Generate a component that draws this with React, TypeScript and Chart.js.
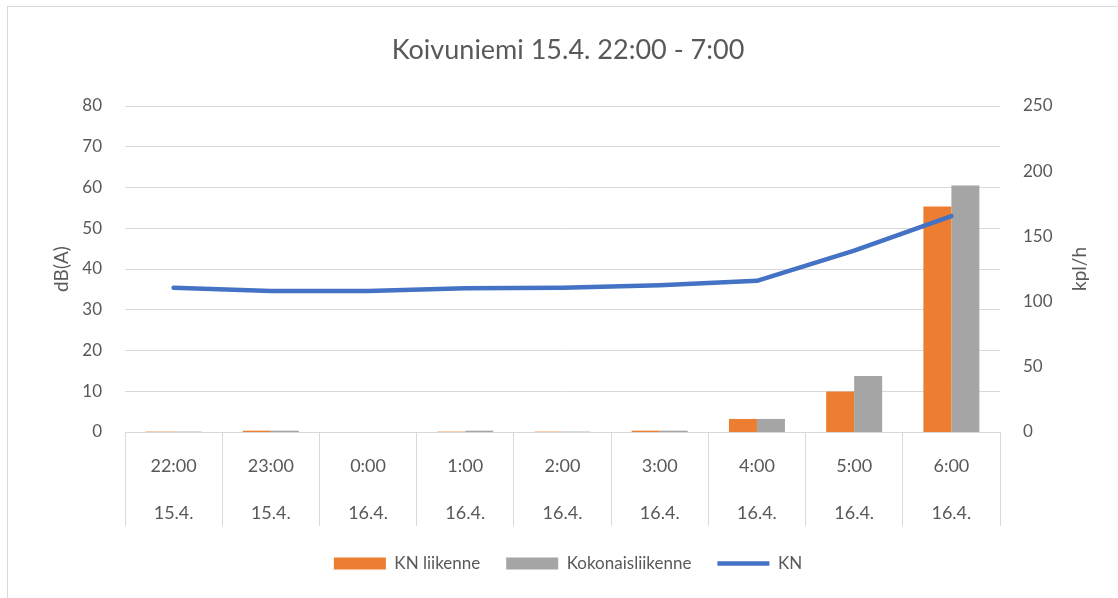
import React, { useEffect, useRef } from "react";
import { Chart, registerables } from "chart.js";

Chart.register(...registerables);

const times = ["22:00", "23:00", "0:00", "1:00", "2:00", "3:00", "4:00", "5:00", "6:00"];
const dates = ["15.4.", "15.4.", "16.4.", "16.4.", "16.4.", "16.4.", "16.4.", "16.4.", "16.4."];
const knLiikenne = [0.3, 1, 0, 0.3, 0.3, 1, 10, 31, 173];
const kokonaisliikenne = [0.3, 1, 0, 1, 0.3, 1, 10, 43, 189];
const knDb = [35.4, 34.6, 34.6, 35.3, 35.4, 36, 37.1, 44.5, 53];

const FONT = "Lato, 'Open Sans', sans-serif";
const TEXT = "#595959";
const GRID = "#D9D9D9";

const rightTitlePlugin = {
  id: "rightTitle",
  afterDraw(chart: any) {
    const s = chart.scales.y1;
    if (!s) return;
    const ctx = chart.ctx;
    ctx.save();
    ctx.translate(s.right - 48, (s.top + s.bottom) / 2);
    ctx.rotate(-Math.PI / 2);
    ctx.font = `19px ${FONT}`;
    ctx.fillStyle = TEXT;
    ctx.textAlign = "center";
    ctx.textBaseline = "middle";
    ctx.fillText("kpl/h", 0, 0);
    ctx.restore();
  },
};

export default function App() {
  const ref = useRef<HTMLCanvasElement>(null);
  useEffect(() => {
    document.body.style.margin = "0";
    const labels = times.map((t, i) => [t, dates[i]]);
    const chart = new Chart(ref.current!, {
      type: "bar",
      data: {
        labels,
        datasets: [
          {
            type: "bar",
            label: "KN liikenne",
            data: knLiikenne,
            backgroundColor: "#ED7D31",
            borderWidth: 0,
            yAxisID: "y1",
            order: 1,
            categoryPercentage: 0.576,
            barPercentage: 1,
            pointStyle: "rect",
          } as any,
          {
            type: "bar",
            label: "Kokonaisliikenne",
            data: kokonaisliikenne,
            backgroundColor: "#A5A5A5",
            borderWidth: 0,
            yAxisID: "y1",
            order: 1,
            categoryPercentage: 0.576,
            barPercentage: 1,
            pointStyle: "rect",
          } as any,
          {
            type: "line",
            label: "KN",
            data: knDb,
            borderColor: "#4472C4",
            backgroundColor: "#4472C4",
            borderWidth: 4.5,
            borderCapStyle: "round",
            borderJoinStyle: "round",
            pointRadius: 0,
            pointHoverRadius: 0,
            pointStyle: "line",
            tension: 0,
            yAxisID: "y",
            order: 0,
          } as any,
        ],
      },
      options: {
        animation: false,
        responsive: false,
        layout: { padding: { left: 0, right: 0, top: 0, bottom: 25 } },
        plugins: {
          title: {
            display: true,
            text: "Koivuniemi 15.4. 22:00 - 7:00",
            color: TEXT,
            font: { family: FONT, size: 27, weight: "normal" },
            padding: { top: 26.8, bottom: 39.8 },
          },
          legend: {
            position: "bottom",
            labels: {
              usePointStyle: true,
              pointStyleWidth: 52,
              boxHeight: 12,
              padding: 26,
              color: TEXT,
              font: { family: FONT, size: 17 },
              sort: (a: any, b: any) => a.datasetIndex - b.datasetIndex,
            },
          },
          tooltip: { enabled: false },
        },
        scales: {
          x: {
            offset: true,
            grid: {
              offset: true,
              drawOnChartArea: false,
              drawTicks: true,
              tickLength: 94,
              color: GRID,
            },
            border: { display: true, color: GRID },
            ticks: {
              color: TEXT,
              font: { family: FONT, size: 18, lineHeight: 2.61 },
              padding: -83.5,
              autoSkip: false,
              maxRotation: 0,
              minRotation: 0,
            },
            afterFit: (s: any) => {
              s.height = 97;
            },
          },
          y: {
            position: "left",
            min: 0,
            max: 80,
            ticks: {
              stepSize: 10,
              color: TEXT,
              font: { family: FONT, size: 17 },
              padding: 23,
            },
            grid: { color: GRID, drawTicks: false },
            border: { display: false },
            title: {
              display: true,
              text: "dB(A)",
              color: TEXT,
              font: { family: FONT, size: 19 },
              padding: { top: 42.6, bottom: 0 },
            },
            afterFit: (s: any) => {
              s.width = 117;
            },
          },
          y1: {
            position: "right",
            min: 0,
            max: 250,
            ticks: {
              stepSize: 50,
              color: TEXT,
              font: { family: FONT, size: 17 },
              padding: 23,
            },
            grid: { display: false, drawTicks: false },
            border: { display: false },
            afterFit: (s: any) => {
              s.width = 128;
            },
          },
        },
      } as any,
      plugins: [rightTitlePlugin],
    });
    return () => chart.destroy();
  }, []);
  return (
    <div
      style={{
        position: "fixed",
        left: 7,
        top: 6,
        width: 1120,
        height: 600,
        border: `1px solid ${GRID}`,
        background: "#fff",
      }}
    >
      <canvas ref={ref} width={1120} height={600} style={{ display: "block" }} />
    </div>
  );
}
